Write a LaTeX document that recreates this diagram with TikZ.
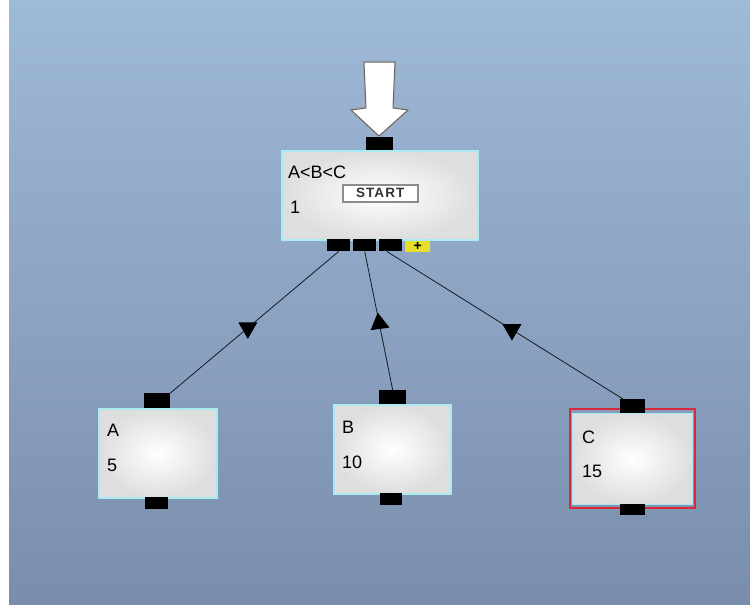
\documentclass[tikz,border=0pt]{standalone}
\usepackage{fontspec}
\setmainfont{Liberation Sans}
\usetikzlibrary{shapes.geometric}
\definecolor{bgtop}{HTML}{9FB9D9}
\definecolor{bgbot}{HTML}{7A8EAB}
\definecolor{boxedge}{HTML}{A8ECF2}
\definecolor{selred}{HTML}{D8283A}
\definecolor{plusyel}{HTML}{E6DE2A}
\definecolor{linkcol}{HTML}{151A22}
\begin{document}
\begin{tikzpicture}[x=1pt,y=-1pt,
  box/.style={draw=boxedge, line width=1.6pt, inner color=white, outer color=black!13,
    inner sep=0pt, anchor=north west},
  port/.style={fill=black, inner sep=0pt, anchor=north west},
  lbl/.style={inner sep=0pt, anchor=base west, font=\fontsize{18}{20}\selectfont, text=black},
  link/.style={draw=linkcol, line width=0.8pt},
  tri/.style={regular polygon, regular polygon sides=3, fill=black, inner sep=0pt, minimum size=22pt}
]
\useasboundingbox (0,0) rectangle (750,608);
\fill[white] (0,0) rectangle (750,608);
\shade[top color=bgtop, bottom color=bgbot] (9,0) rectangle (750,604);

% big white entry arrow
\draw[line width=3.5pt, black!35, opacity=0.5, line join=round]
  (364,62) -- (395,62) -- (393,108) -- (408,110) -- (379,136) -- (351,110) -- (366,108) -- cycle;
\draw[fill=white, draw=black!60, line width=1pt, line join=round]
  (364,62) -- (395,62) -- (393,108) -- (408,110) -- (379,136) -- (351,110) -- (366,108) -- cycle;

% main box
\node[box, minimum width=196pt, minimum height=89pt] (main) at (281,150) {};
\node[port, minimum width=27pt, minimum height=13pt] (tp) at (366,137) {};
\node[port, minimum width=23pt, minimum height=12pt] (p1) at (327,239) {};
\node[port, minimum width=23pt, minimum height=12pt] (p2) at (353,239) {};
\node[port, minimum width=23pt, minimum height=12pt] (p3) at (379,239) {};
\node[fill=plusyel, inner sep=0pt, anchor=north west, minimum width=25pt, minimum height=11pt,
  font=\fontsize{14}{14}\selectfont\bfseries] (plus) at (405,241) {+};
\node[lbl] (mtitle) at (288,178) {A<B<C};
\node[lbl] (mnum) at (290,213) {1};
\node[draw=black!45, line width=1.5pt, fill=white, inner sep=0pt, anchor=north west,
  minimum width=75pt, minimum height=17pt, text=black!80,
  font=\fontsize{13.5}{13.5}\selectfont\bfseries\addfontfeature{LetterSpace=8}] (start) at (342,184) {START};

% child boxes
\node[box, minimum width=118pt, minimum height=89pt] (boxa) at (98,408) {};
\node[port, minimum width=26pt, minimum height=15pt] (ta) at (144,393) {};
\node[port, minimum width=23pt, minimum height=12pt] (ba) at (145,497) {};
\node[lbl] (la) at (107,436) {A};
\node[lbl] (na) at (107,471) {5};

\node[box, minimum width=117pt, minimum height=89pt] (boxb) at (333,404) {};
\node[port, minimum width=27pt, minimum height=14pt] (tb) at (379,390) {};
\node[port, minimum width=22pt, minimum height=12pt] (bb) at (380,493) {};
\node[lbl] (lb) at (342,433) {B};
\node[lbl] (nb) at (342,468) {10};

\node[draw=selred, line width=1.6pt, inner sep=0pt, anchor=north west,
  minimum width=125pt, minimum height=99pt] (sel) at (569,408) {};
\node[box, minimum width=120pt, minimum height=91pt] (boxc) at (571.5,412.5) {};
\node[port, minimum width=25pt, minimum height=14pt] (tc) at (620,399) {};
\node[port, minimum width=25pt, minimum height=11pt] (bc) at (620,504) {};
\node[lbl] (lc) at (582,443) {C};
\node[lbl] (nc) at (582,477) {15};

% links
\draw[link] (p1.south) -- node[pos=0.54, tri, shape border rotate=180] {} (ta.north east);
\draw[link] (p2.south) -- node[pos=0.52, tri, shape border rotate=8] {} (tb.north);
\draw[link] ([xshift=-4pt]p3.south) -- node[pos=0.53, tri, shape border rotate=180] {} ([xshift=3pt]tc.north west);
\end{tikzpicture}
\end{document}
